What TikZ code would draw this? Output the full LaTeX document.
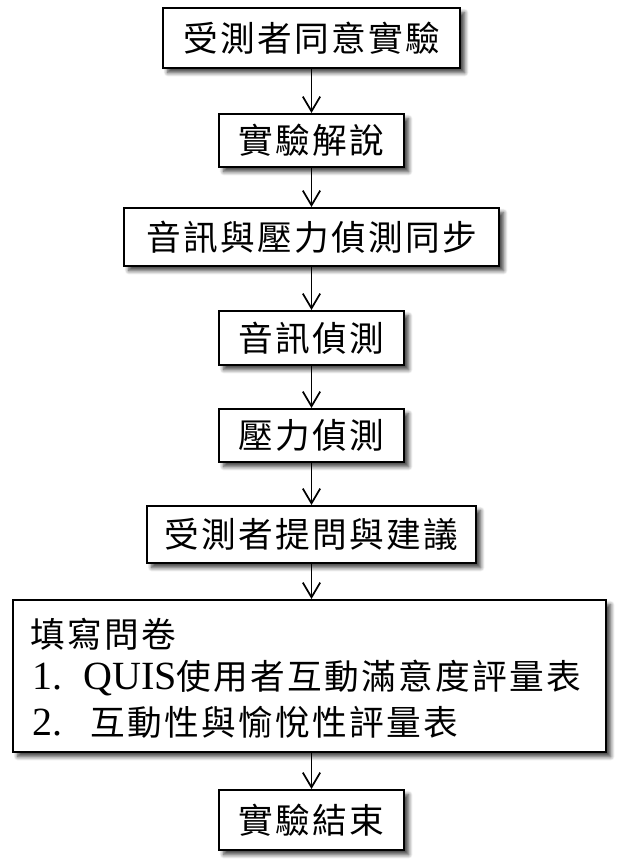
\documentclass[tikz,border=0pt]{standalone}
\usepackage{fontspec}
\setmainfont{Liberation Serif}
\newfontfamily\cjk{Noto Sans CJK TC}
\usetikzlibrary{arrows.meta,shadows.blur}
\makeatletter
\newcommand\ltrsp[2]{\@tfor\ltrchar:=#2\do{\ltrchar\kern#1}\unkern}
\makeatother
\def\pxu{0.75pt}
\begin{document}
\begin{tikzpicture}[x=0.75pt,y=-0.75pt,
  box/.style={draw, line width=1.5pt, fill=white, inner sep=0pt,
    font=\fontsize{26}{30}\selectfont\cjk,
    blur shadow={shadow xshift=3.5pt, shadow yshift=-3.5pt, shadow blur radius=3pt, shadow blur steps=8, shadow opacity=75}},
  txt/.style={inner sep=0pt, anchor=west, font=\fontsize{26}{30}\selectfont},
  arr/.style={line width=1.3pt, -{Straight Barb[length=11pt,width=13pt,line width=1.3pt]}}]
\useasboundingbox (0,0) rectangle (625,866);
\node[box, minimum width=297*\pxu, minimum height=60*\pxu] (b1) at (311.5,38) {\ltrsp{1.75pt}{受測者同意實驗}};
\node[box, minimum width=185*\pxu, minimum height=53*\pxu] (b2) at (311.5,140.5) {\ltrsp{1.75pt}{實驗解說}};
\node[box, minimum width=375*\pxu, minimum height=58*\pxu] (b3) at (311.5,237) {\ltrsp{1.75pt}{音訊與壓力偵測同步}};
\node[box, minimum width=185*\pxu, minimum height=54*\pxu] (b4) at (311.5,338) {\ltrsp{1.75pt}{音訊偵測}};
\node[box, minimum width=185*\pxu, minimum height=53*\pxu] (b5) at (311.5,435.5) {\ltrsp{1.75pt}{壓力偵測}};
\node[box, minimum width=329*\pxu, minimum height=57*\pxu] (b6) at (311.5,534.5) {\ltrsp{1.75pt}{受測者提問與建議}};
\node[box, minimum width=593*\pxu, minimum height=152*\pxu] (b7) at (309.5,676) {};
\node[box, minimum width=185*\pxu, minimum height=60*\pxu] (b8) at (311.5,820) {\ltrsp{1.75pt}{實驗結束}};
\node[txt] (l0) at (30,634) {\cjk\ltrsp{1.75pt}{填寫問卷}};
\node[txt] (l1) at (32,678) {\makebox[38.25pt][l]{\fontsize{30}{32}\selectfont 1.}{\fontsize{30}{32}\selectfont QUIS}{\cjk\ltrsp{1.75pt}{使用者互動滿意度評量表}}};
\node[txt] (l2) at (32,722) {\makebox[43.5pt][l]{\fontsize{30}{32}\selectfont 2.}{\cjk\ltrsp{1.75pt}{互動性與愉悅性評量表}}};
\draw[arr] (b1.south) -- (b2.north);
\draw[arr] (b2.south) -- (b3.north);
\draw[arr] (b3.south) -- (b4.north);
\draw[arr] (b4.south) -- (b5.north);
\draw[arr] (b5.south) -- (b6.north);
\draw[arr] (b6.south) -- (b6.south |- b7.north);
\draw[arr] (b6.south |- b7.south) -- (b8.north);
\end{tikzpicture}
\end{document}
